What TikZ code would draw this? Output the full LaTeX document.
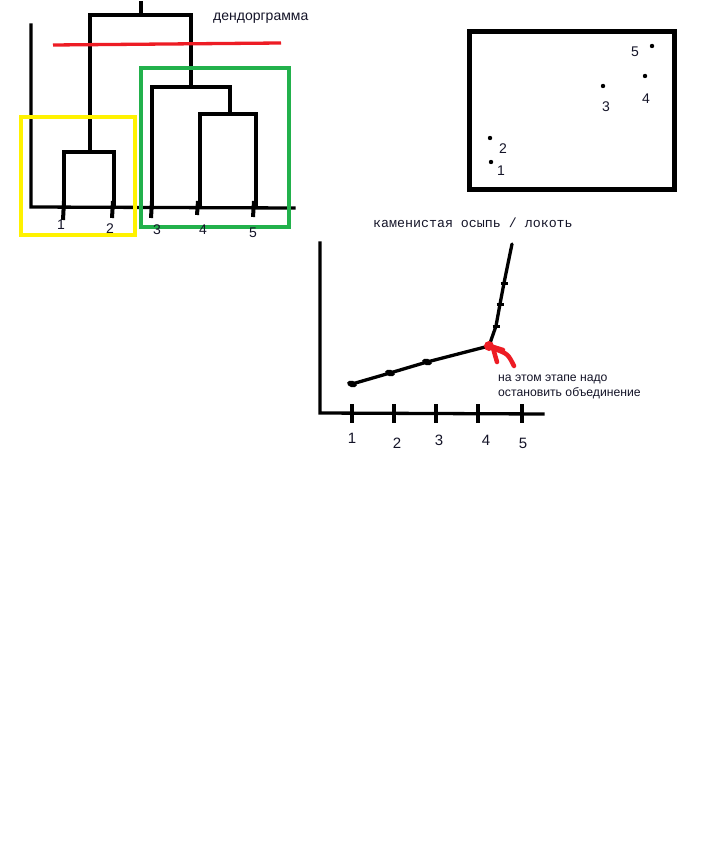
\documentclass[tikz,border=0pt]{standalone}
\usepackage{fontspec}
\usetikzlibrary{calc}
\setmainfont{Liberation Sans}
\newfontfamily\monof{Liberation Mono}
\definecolor{pyellow}{RGB}{255,242,0}
\definecolor{pgreen}{RGB}{34,177,76}
\definecolor{pred}{RGB}{237,28,36}
\definecolor{ptext}{RGB}{20,20,40}
\tikzset{
  ln/.style={line width=3.3pt, line cap=rect},
  tk/.style={line width=4pt},
  lab/.style={inner sep=0pt, font=\fontsize{14}{16}\selectfont, text=ptext},
  elab/.style={inner sep=0pt, font=\fontsize{15}{17}\selectfont, text=ptext},
  dotpt/.style={fill=black, draw=none},
  mk/.style={fill=black, draw=none},
}
\begin{document}
\begin{tikzpicture}[x=1pt,y=-1pt]
\useasboundingbox[fill=white] (0,0) rectangle (704,866);

% ---------- dendrogram ----------
\coordinate (ay) at (31,25);
\coordinate (ao) at (31,207);
\coordinate (ax) at (294,208);
\draw[ln] (ay) -- (ao) -- (ax);
\foreach \x/\a/\b in {64/201/220, 113/201/218, 152/201/218, 198/201/215, 254/201/217}
  \draw[tk] (\x,\a) -- (\x-1,\b);
\coordinate (l1) at (64,207);
\coordinate (l2) at (114,207);
\coordinate (l3) at (152,207);
\coordinate (l4) at (200,207);
\coordinate (l5) at (256,207);
\coordinate (c12) at (90,152);
\coordinate (c345) at (191,87);
\coordinate (top) at (141,15);
\draw[ln] (l1) -- (64,152) -- (114,152) -- (l2);
\draw[ln] (c12) -- (90,15) -- (191,15) -- (c345);
\draw[ln] (top) -- (141,3);
\draw[ln] (l3) -- (152,87) -- (230,87) -- (230,114);
\draw[ln] (l4) -- (200,114) -- (256,114) -- (l5);
% cut line
\draw[pred, line width=3.3pt] (53,45) -- (281,43);
% cluster boxes
\draw[pyellow, line width=3.3pt] (21,117) rectangle (135,235);
\draw[pgreen, line width=3.3pt] (141,68) rectangle (289,227);
% leaf labels
\node[lab] (d1) at (61,225) {1};
\node[lab] (d2) at (110,229) {2};
\node[lab] (d3) at (157,230) {3};
\node[lab] (d4) at (203,230) {4};
\node[lab] (d5) at (253,233) {5};
\node[inner sep=0pt, anchor=base west, font=\fontsize{14}{16}\selectfont, text=ptext] (dt) at (213,21) {дендорграмма};

% ---------- scatter ----------
\draw[line width=5pt] (469.5,31.5) rectangle (674.5,189.5);
\fill[dotpt] (652,46) circle (2.2);
\fill[dotpt] (645,76) circle (2.2);
\fill[dotpt] (603,86) circle (2.2);
\fill[dotpt] (490,138) circle (2.2);
\fill[dotpt] (491,162) circle (2.2);
\node[lab] (s5) at (635,52) {5};
\node[lab] (s4) at (646,99) {4};
\node[lab] (s3) at (606,107) {3};
\node[lab] (s2) at (503,149) {2};
\node[lab] (s1) at (501,171) {1};

% ---------- elbow ----------
\node[inner sep=0pt, anchor=base west, font=\monof\fontsize{13.3}{15}\selectfont, text=ptext] (et) at (373,228) {каменистая осыпь / локоть};
\coordinate (ey) at (320,243);
\coordinate (eo) at (320,413);
\coordinate (ex) at (543,414);
\draw[ln] (ey) -- (eo) -- (ex);
\foreach \x in {352,394,436,478,522}
  \draw[line width=3.3pt] (\x,404) -- (\x,423);
\node[elab] (e1) at (352,438) {1};
\node[elab] (e2) at (397,443) {2};
\node[elab] (e3) at (439,440) {3};
\node[elab] (e4) at (486,440) {4};
\node[elab] (e5) at (523,443) {5};
\coordinate (p1) at (352,384);
\coordinate (p2) at (390,373);
\coordinate (p3) at (427,362);
\coordinate (p4) at (489,346);
\coordinate (p5) at (496,326);
\coordinate (p6) at (500,304);
\coordinate (p7) at (504,283);
\coordinate (p8) at (512,244);
\draw[line width=3.3pt, line cap=round] (p1) -- (p2) -- (p3) -- (p4) -- (p5) -- (p6) -- (p7) -- (p8);
\foreach \p in {p1,p2,p3}
  \fill[mk, rotate around={-16:(\p)}] (\p) ellipse (5 and 3.2);
\foreach \p in {p5,p6,p7}
  \draw[line width=3pt] ($(\p)+(-3.5,0)$) -- ($(\p)+(3.5,0)$);
% red arrow
\fill[pred] (489,346) circle (5);
\draw[pred, line width=4.5pt, line cap=round] (487,345) -- (503,350);
\draw[pred, line width=4.5pt, line cap=round] (493,348) -- (497,362);
\draw[pred, line width=4.5pt, line cap=round] (495,349) .. controls (508,354) .. (514,366);
\node[inner sep=0pt, anchor=base west, font=\fontsize{12.2}{14}\selectfont, text=ptext] (n1) at (498,381) {на этом этапе надо};
\node[inner sep=0pt, anchor=base west, font=\fontsize{12.2}{14}\selectfont, text=ptext] (n2) at (498,396) {остановить объединение};
\end{tikzpicture}
\end{document}
